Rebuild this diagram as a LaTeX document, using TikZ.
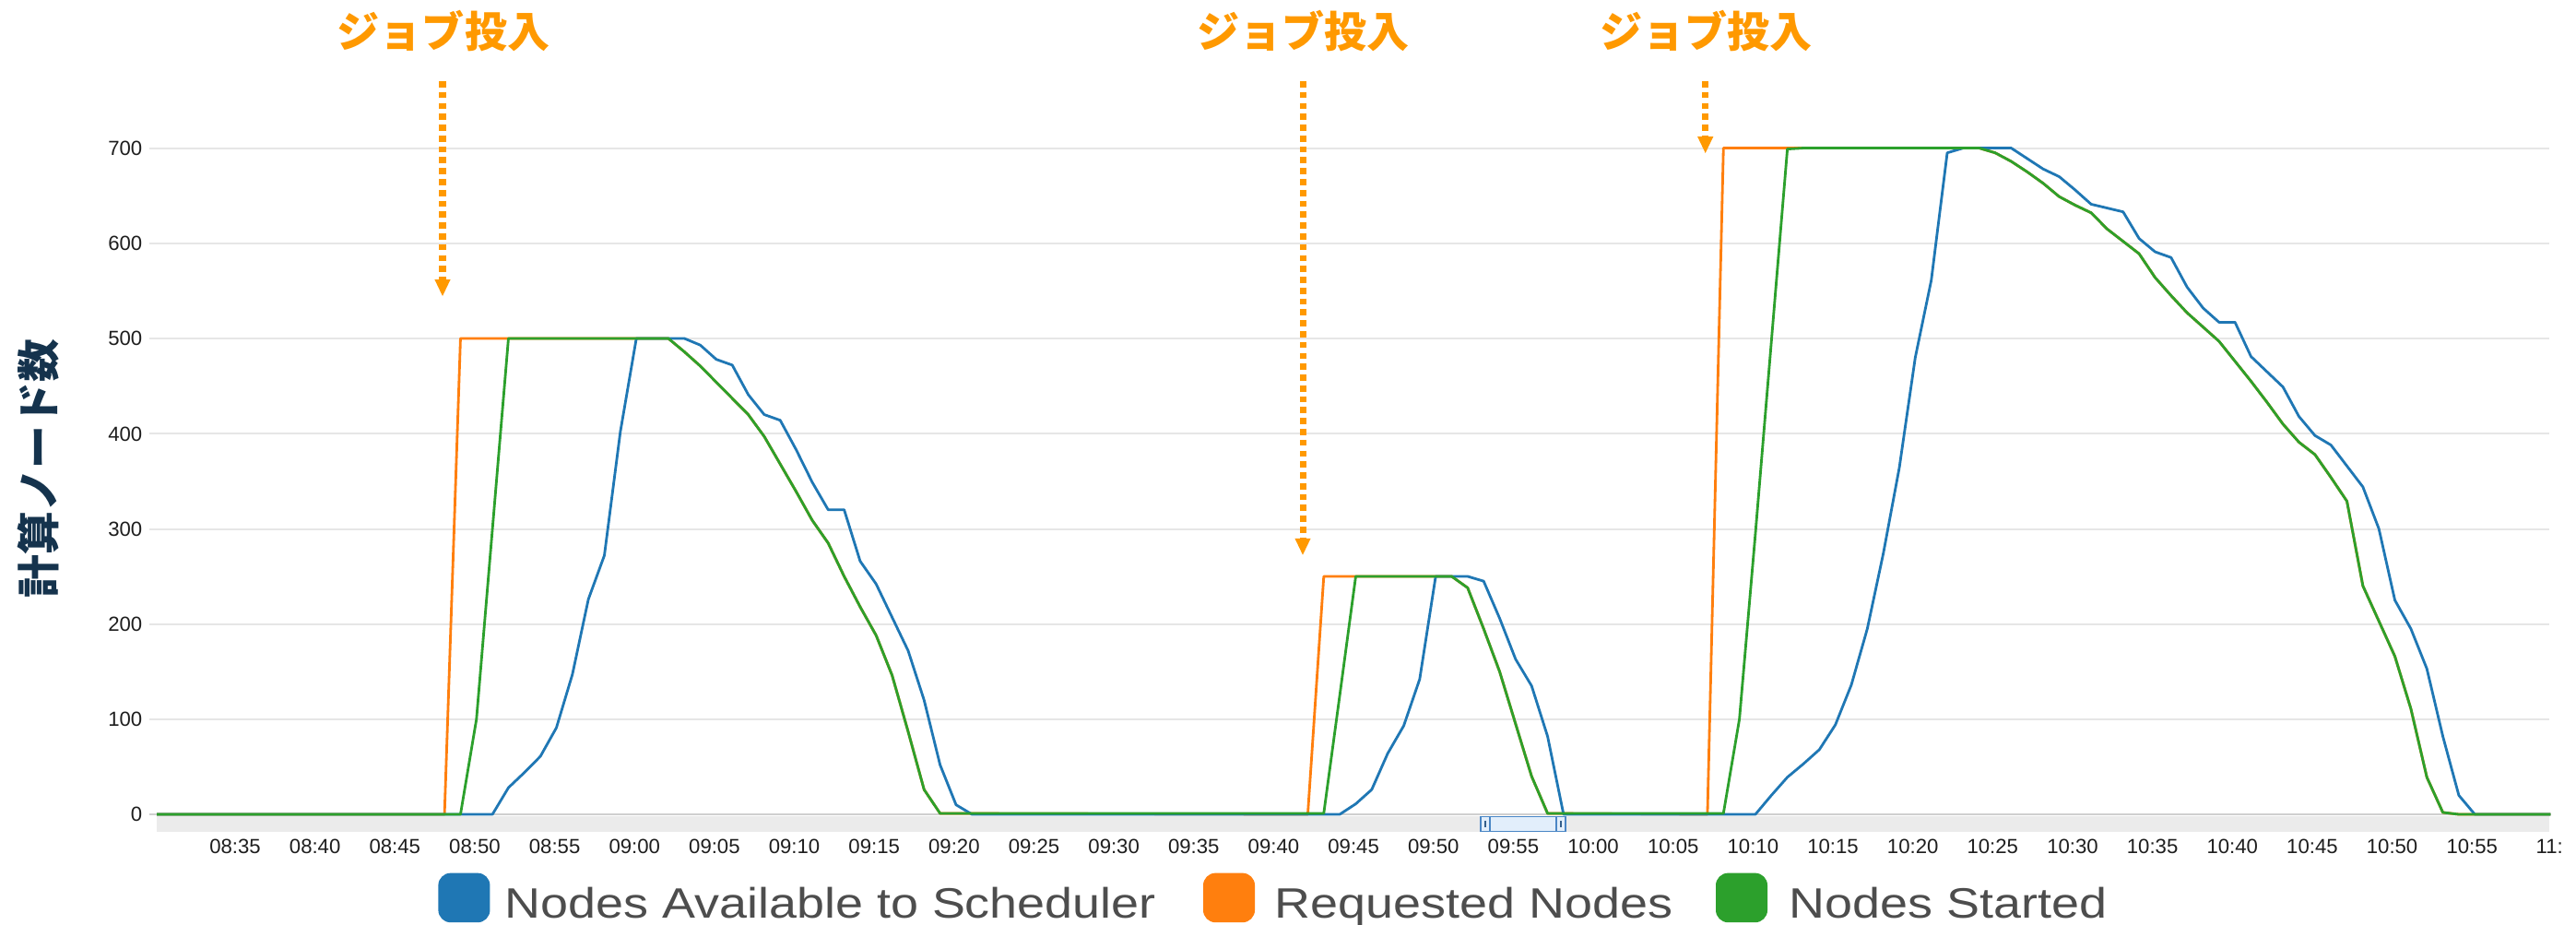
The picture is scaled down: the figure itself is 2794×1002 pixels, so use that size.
\documentclass[tikz,border=0pt]{standalone}
\usepackage{fontspec}
\setmainfont{Liberation Sans}
\newfontfamily\jpfont{Noto Sans CJK JP}
\usetikzlibrary{arrows.meta}

\definecolor{serblue}{HTML}{1F77B4}
\definecolor{serorange}{HTML}{FF7F0E}
\definecolor{sergreen}{HTML}{2CA02C}
\definecolor{jobcol}{HTML}{FF9900}
\definecolor{axisnavy}{HTML}{15334D}
\definecolor{gridgray}{HTML}{E6E6E6}
\definecolor{basegray}{HTML}{CFCFCF}
\definecolor{bandgray}{HTML}{EBEBEB}
\definecolor{legendtext}{HTML}{4D4D4D}
\definecolor{ticktext}{HTML}{1E1E1E}
\definecolor{navfill}{HTML}{E2EEFB}
\definecolor{navedge}{HTML}{4A86C5}

\begin{document}
\begin{tikzpicture}[x=0.01cm, y=-0.01cm,
  gridrule/.style={draw=gridgray, line width=0.55pt},
  seriesline/.style={line width=0.8pt, line join=round},
  ticklabel/.style={font=\fontsize{6.3}{7.5}\selectfont, text=ticktext, inner sep=0pt},
  joblabel/.style={font=\jpfont\bfseries\fontsize{13.1}{15}\selectfont, text=jobcol, inner sep=0pt},
  jobarrow/.style={draw=jobcol, line width=2pt, dash pattern=on 1.9pt off 1.45pt,
    -{Triangle[width=4.9pt,length=5.1pt,line width=0pt]}},
  legsquare/.style={draw=none, rounded corners=3.8pt, minimum width=0.56cm,
    minimum height=0.535cm, inner sep=0pt},
  legtext/.style={font=\fontsize{13.1}{15}\selectfont, text=legendtext, inner sep=0pt, anchor=base west},
  axistitle/.style={font=\jpfont\bfseries\fontsize{13.3}{15}\selectfont, text=axisnavy, rotate=90, inner sep=0pt}]

% canvas
\fill[white] (0,0) rectangle (2794,1002);
\useasboundingbox (0,0) rectangle (2794,1002);

% horizontal grid
\foreach \v in {100,200,...,700}
  \draw[gridrule] (161.7,{883-1.0314*\v}) -- (2765,{883-1.0314*\v});

% navigator band under the time axis
\fill[bandgray] (170,884.5) rectangle (2765,902);
\draw[basegray, line width=0.6pt] (161.7,883) -- (2765,883);

% y tick labels
\foreach \v in {0,100,...,700}
  \node[ticklabel, anchor=east] (yt\v) at (155,{883-1.0314*\v}) {\v};

% x tick labels
\foreach \lab [count=\i from 0] in {08:35,08:40,08:45,08:50,08:55,09:00,09:05,09:10,09:15,09:20,
    09:25,09:30,09:35,09:40,09:45,09:50,09:55,10:00,10:05,10:10,10:15,10:20,10:25,10:30,10:35,
    10:40,10:45,10:50,10:55}
  \node[ticklabel] (xt\i) at ({255+86.65*\i},918) {\lab};
\node[ticklabel, anchor=west] (xtlast) at (2750,918) {11:};

% axis title
\node[axistitle] (ytitle) at (41.7,508) {計算ノード数};

% data series, one sample per minute
\begin{scope}[shift={(256.7,883)}, x=0.1733cm, y=0.010314cm]
  % Requested Nodes
  \draw[seriesline, serorange] plot coordinates {
    (-5,0) (13,0) (14,500) (27,500) (28,486) (29,471) (30,454) (31,437) (32,420) (33,397)
    (34,368) (35,339) (36,309) (37,285) (38,250) (39,218) (40,188) (41,146) (42,87) (43,26)
    (44,1) (67,0) (68,250) (76,250) (77,238) (78,195) (79,150) (80,95) (81,40) (82,1)
    (92,0) (93,700) (109,700) (110,695) (111,686) (112,675) (113,663) (114,649) (115,640)
    (116,632) (117,615) (118,602) (119,589) (120,564) (121,545) (122,527) (123,512) (124,497)
    (125,476) (126,455) (127,433) (128,410) (129,391) (130,378) (131,354) (132,329) (133,240)
    (134,203) (135,166) (136,111) (137,39) (138,2) (139,0) (144.74,0)};
  % Nodes Available to Scheduler
  \draw[seriesline, serblue] plot coordinates {
    (-5,0) (16,0) (17,28) (18,44) (19,61) (20,91) (21,147) (22,226) (23,272) (24,402)
    (25,500) (28,500) (29,493) (30,478) (31,472) (32,441) (33,420) (34,414) (35,383)
    (36,349) (37,320) (38,320) (39,266) (40,242) (41,207) (42,172) (43,120) (44,52) (45,10)
    (46,0) (69,0) (70,11) (71,26) (72,64) (73,93) (74,142) (75,250) (77,250) (78,245)
    (79,206) (80,163) (81,135) (82,82) (83,0) (95,0) (96,20) (97,39) (98,53) (99,68)
    (100,94) (101,136) (102,195) (103,274) (104,364) (105,480) (106,561) (107,695) (108,700)
    (111,700) (112,689) (113,678) (114,670) (115,656) (116,641) (117,637) (118,633) (119,605)
    (120,591) (121,585) (122,554) (123,532) (124,517) (125,517) (126,481) (127,465) (128,449)
    (129,418) (130,398) (131,388) (132,366) (133,344) (134,300) (135,225) (136,195) (137,153)
    (138,82) (139,20) (140,0) (144.74,0)};
  % Nodes Started
  \draw[seriesline, sergreen] plot coordinates {
    (-5,0) (14,0) (15,100) (16,300) (17,500) (27,500) (28,486) (29,471) (30,454) (31,437)
    (32,420) (33,397) (34,368) (35,339) (36,309) (37,285) (38,250) (39,218) (40,188) (41,146)
    (42,87) (43,26) (44,1) (68,1) (69,125) (70,250) (76,250) (77,238) (78,195) (79,150)
    (80,95) (81,40) (82,1) (93,1) (94,100) (95,295) (96,497) (97,699) (98,700) (109,700)
    (110,695) (111,686) (112,675) (113,663) (114,649) (115,640) (116,632) (117,615) (118,602)
    (119,589) (120,564) (121,545) (122,527) (123,512) (124,497) (125,476) (126,455) (127,433)
    (128,410) (129,391) (130,378) (131,354) (132,329) (133,240) (134,203) (135,166) (136,111)
    (137,39) (138,2) (139,0) (144.74,0)};
\end{scope}

% range selector on the navigator band
\draw[navedge, fill=navfill, line width=0.5pt] (1605.7,885.5) rectangle (1697.7,901.5);
\draw[navedge, line width=0.5pt] (1605.7,885.5) rectangle (1615.7,901.5);
\draw[navedge, line width=0.5pt] (1687.7,885.5) rectangle (1697.7,901.5);
\draw[navedge!70!black, line width=0.6pt] (1610.7,890) -- (1610.7,897);
\draw[navedge!70!black, line width=0.6pt] (1692.7,890) -- (1692.7,897);

% job submission markers
\node[joblabel] (job1) at (481,34) {ジョブ投入};
\node[joblabel] (job2) at (1413.5,34) {ジョブ投入};
\node[joblabel] (job3) at (1850.6,34) {ジョブ投入};
\coordinate (js1) at (480,88);
\coordinate (jt1) at (480,321);
\coordinate (js2) at (1413,88);
\coordinate (jt2) at (1413,601.7);
\coordinate (js3) at (1849.7,88);
\coordinate (jt3) at (1849.7,166);
\draw[jobarrow] (js1) -- (jt1);
\draw[jobarrow] (js2) -- (jt2);
\draw[jobarrow] (js3) -- (jt3);

% legend
\node[legsquare, fill=serblue] (legA) at (503.4,973.4) {};
\node[legtext] (legAt) at (547,995) {\scalebox{1.17}[1]{Nodes Available to Scheduler}};
\node[legsquare, fill=serorange] (legB) at (1333,973.4) {};
\node[legtext] (legBt) at (1382,995) {\scalebox{1.17}[1]{Requested Nodes}};
\node[legsquare, fill=sergreen] (legC) at (1889,973.4) {};
\node[legtext] (legCt) at (1940,995) {\scalebox{1.17}[1]{Nodes Started}};
\end{tikzpicture}
\end{document}
